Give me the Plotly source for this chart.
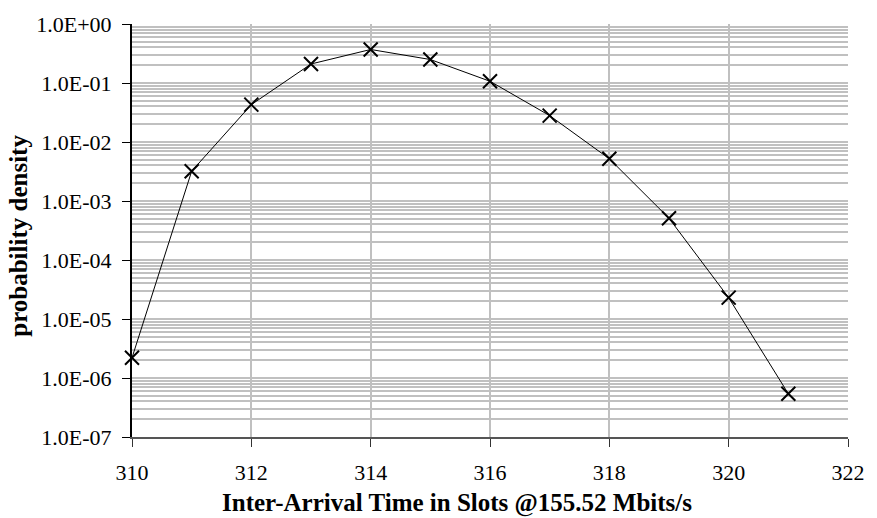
import plotly.graph_objects as go

# Inter-arrival time distribution (slots at 155.52 Mbit/s)
slots = [310, 311, 312, 313, 314, 315, 316, 317, 318, 319, 320, 321]
density = [2.2e-6, 3.2e-3, 4.3e-2, 0.21, 0.37, 0.25, 0.107, 0.028,
           5.2e-3, 5.1e-4, 2.3e-5, 5.4e-7]

y_tick_vals = [1e-7, 1e-6, 1e-5, 1e-4, 1e-3, 1e-2, 1e-1, 1e0]
y_tick_text = ["1.0E-07", "1.0E-06", "1.0E-05", "1.0E-04",
               "1.0E-03", "1.0E-02", "1.0E-01", "1.0E+00"]
x_tick_vals = [310, 312, 314, 316, 318, 320, 322]

x_title = "Inter-Arrival Time in Slots @155.52 Mbits/s"
y_title = "probability density"

SERIF = "Liberation Serif, Times New Roman, serif"
GRID = "#c0c0c0"

fig = go.Figure()
fig.add_trace(go.Scatter(
    x=slots, y=density, mode="lines+markers",
    line=dict(color="black", width=1),
    marker=dict(symbol="x-thin", size=14, line=dict(color="black", width=2)),
    showlegend=False, cliponaxis=False,
))

fig.update_layout(
    width=877, height=518,
    margin=dict(l=132, r=23, t=21, b=81),
    paper_bgcolor="white", plot_bgcolor="white",
    font=dict(family=SERIF, size=22, color="black"),
    xaxis=dict(
        range=[310, 322], tickvals=x_tick_vals,
        showgrid=True, gridcolor=GRID, gridwidth=2,
        showline=True, linecolor="#555555", linewidth=2,
        ticks="outside", ticklen=8, tickcolor="#333333", tickwidth=1,
        zeroline=False, ticklabelstandoff=7,
    ),
    yaxis=dict(
        type="log", range=[-7, 0],
        tickvals=y_tick_vals, ticktext=y_tick_text,
        showgrid=True, gridcolor=GRID, gridwidth=2,
        minor=dict(dtick="D1", showgrid=True, gridcolor=GRID, gridwidth=2, ticks=""),
        showline=True, linecolor="black", linewidth=2,
        ticks="outside", ticklen=8, tickcolor="black", tickwidth=1,
        zeroline=False, ticklabelstandoff=6,
    ),
    annotations=[
        dict(text="<b>" + x_title + "</b>", xref="paper", yref="paper",
             x=0.454, y=-0.159, xanchor="center", yanchor="middle",
             showarrow=False, font=dict(family=SERIF, size=25, color="black")),
        dict(text="<b>" + y_title + "</b>", xref="paper", yref="paper",
             x=-0.158, y=0.487, xanchor="center", yanchor="middle",
             textangle=-90, showarrow=False,
             font=dict(family=SERIF, size=25, color="black")),
    ],
)

fig.write_html("out.html")
